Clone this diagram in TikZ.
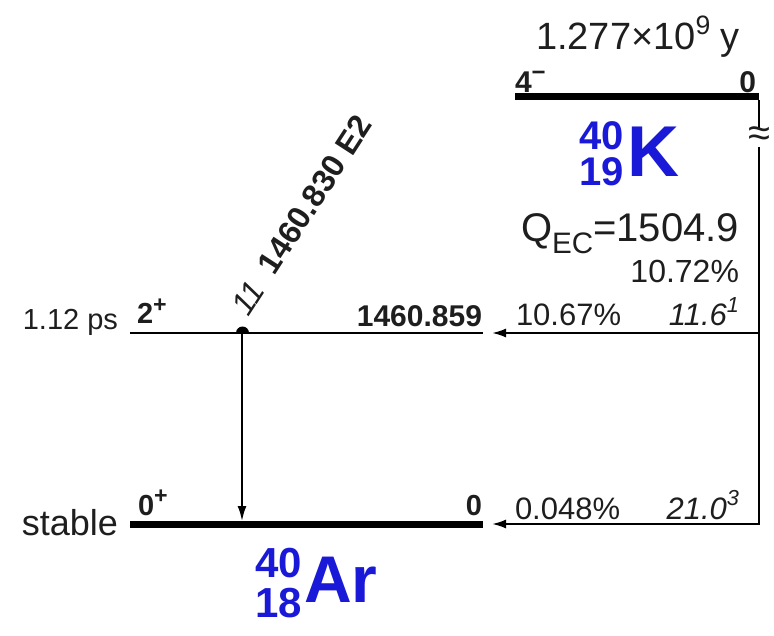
\documentclass[tikz,border=0pt]{standalone}
\usepackage{fontspec}
\usepackage{graphicx}
\setmainfont{Liberation Sans}
\usetikzlibrary{arrows.meta}
\definecolor{nucblue}{RGB}{25,25,215}
\definecolor{txt}{RGB}{30,30,30}
\newcommand\fsz[1]{\fontsize{#1}{#1}\selectfont}
\newcommand\upx[1]{\raisebox{0.42em}{\scalebox{0.7}{#1}}}
\newcommand\spx[1]{\raisebox{0.40em}{\scalebox{0.8}{#1}}}
\newcommand\dnx[1]{\raisebox{-0.30em}{\scalebox{0.74}{#1}}}
\begin{document}
\begin{tikzpicture}[x=1pt,y=-1pt,
  lab/.style={inner sep=0pt, outer sep=0pt, text=txt},
  nuc/.style={inner sep=0pt, outer sep=0pt, text=nucblue, font=\bfseries},
  thinlev/.style={line width=2pt, draw=black},
  thicklev/.style={line width=7pt, draw=black},
  conn/.style={line width=2pt, draw=black},
  arr/.style={line width=2pt, draw=black, -{Latex[length=14pt,width=9pt]}}
]
\useasboundingbox (0,0) rectangle (774,636);

% ---- coordinates ----
\coordinate (Kl) at (515,97);
\coordinate (Kr) at (759,97);
\coordinate (Vbreak1) at (759,128);
\coordinate (Vbreak2) at (759,147);
\coordinate (Vmid) at (759,333);
\coordinate (Vbot) at (759,524);
\coordinate (E1l) at (130,333);
\coordinate (E1r) at (483,333);
\coordinate (E1tip) at (492,333);
\coordinate (E0l) at (130,524);
\coordinate (E0r) at (483,524);
\coordinate (E0tip) at (492,524);
\coordinate (Gtop) at (242,333);
\coordinate (Gbot) at (242,521);

% ---- levels ----
\draw[thicklev] (Kl) -- (Kr);
\draw[thinlev] (E1l) -- (E1r);
\draw[thicklev] (E0l) -- (E0r);

% ---- decay connectors ----
\draw[conn] ([yshift=-3.5pt]Kr) -- (Vbreak1);
\node[lab, font=\fsz{40}] (brk) at (759,137) {≈};
\draw[conn] (Vbreak2) -- (Vbot);
\draw[arr] (Vmid) -- (E1tip);
\draw[arr] ([xshift=1pt]Vbot) -- (E0tip);

% ---- gamma ----
\fill (236,333) arc[start angle=180, end angle=360, radius=6.5] -- cycle;
\draw[line width=2pt, -{Latex[length=15pt,width=9pt]}] (Gtop) -- (Gbot);
\node[lab, rotate=57, anchor=base west, font=\fsz{32}] (glab) at (248,318)
  {{\itshape 11}\hspace{0.5em}\textbf{1460.830 E2}};

% ---- K parent ----
\node[lab, anchor=base, font=\fsz{38}] (thalf) at (638,50) {1.277×10\upx{9} y};
\node[lab, anchor=base west, font=\fsz{30}\bfseries] (kspin) at (515,93) {4\spx{−}};
\node[lab, anchor=base east, font=\fsz{30}\bfseries] (ken) at (756,93) {0};
\node[nuc, anchor=base east, font=\fsz{40}\bfseries] (kA) at (624,150) {40};
\node[nuc, anchor=base east, font=\fsz{40}\bfseries] (kZ) at (624,186) {19};
\node[nuc, anchor=base west, font=\fsz{72}\bfseries] (kel) at (627,177) {K};
\node[lab, anchor=base east, font=\fsz{40}] (qec) at (739,242) {Q\dnx{EC}=1504.9};
\node[lab, anchor=base east, font=\fsz{32}] (tot) at (739,283) {10.72\%};

% ---- branch labels ----
\node[lab, anchor=base west, font=\fsz{31}] (b1) at (516,326) {10.67\%};
\node[lab, anchor=base east, font=\fsz{31}\itshape] (l1) at (739,326) {11.6\upx{1}};
\node[lab, anchor=base west, font=\fsz{31}] (b0) at (515,519) {0.048\%};
\node[lab, anchor=base east, font=\fsz{31}\itshape] (l0) at (739,519) {21.0\upx{3}};

% ---- Ar levels labels ----
\node[lab, anchor=base east, font=\fsz{29}] (hl1) at (118,330) {1.12 ps};
\node[lab, anchor=base west, font=\fsz{29}\bfseries] (sp1) at (137,324) {2\spx{+}};
\node[lab, anchor=base east, font=\fsz{30}\bfseries] (en1) at (482,327) {1460.859};
\node[lab, anchor=base east, font=\fsz{36}] (hl0) at (118,535) {stable};
\node[lab, anchor=base west, font=\fsz{29}\bfseries] (sp0) at (138,515) {0\spx{+}};
\node[lab, anchor=base east, font=\fsz{29}\bfseries] (en0) at (482,515) {0};

% ---- Ar daughter ----
\node[nuc, anchor=base east, font=\fsz{42}\bfseries] (arA) at (302,577) {40};
\node[nuc, anchor=base east, font=\fsz{42}\bfseries] (arZ) at (302,617) {18};
\node[nuc, anchor=base west, font=\fsz{66}\bfseries] (arel) at (304,602) {Ar};
\end{tikzpicture}
\end{document}
